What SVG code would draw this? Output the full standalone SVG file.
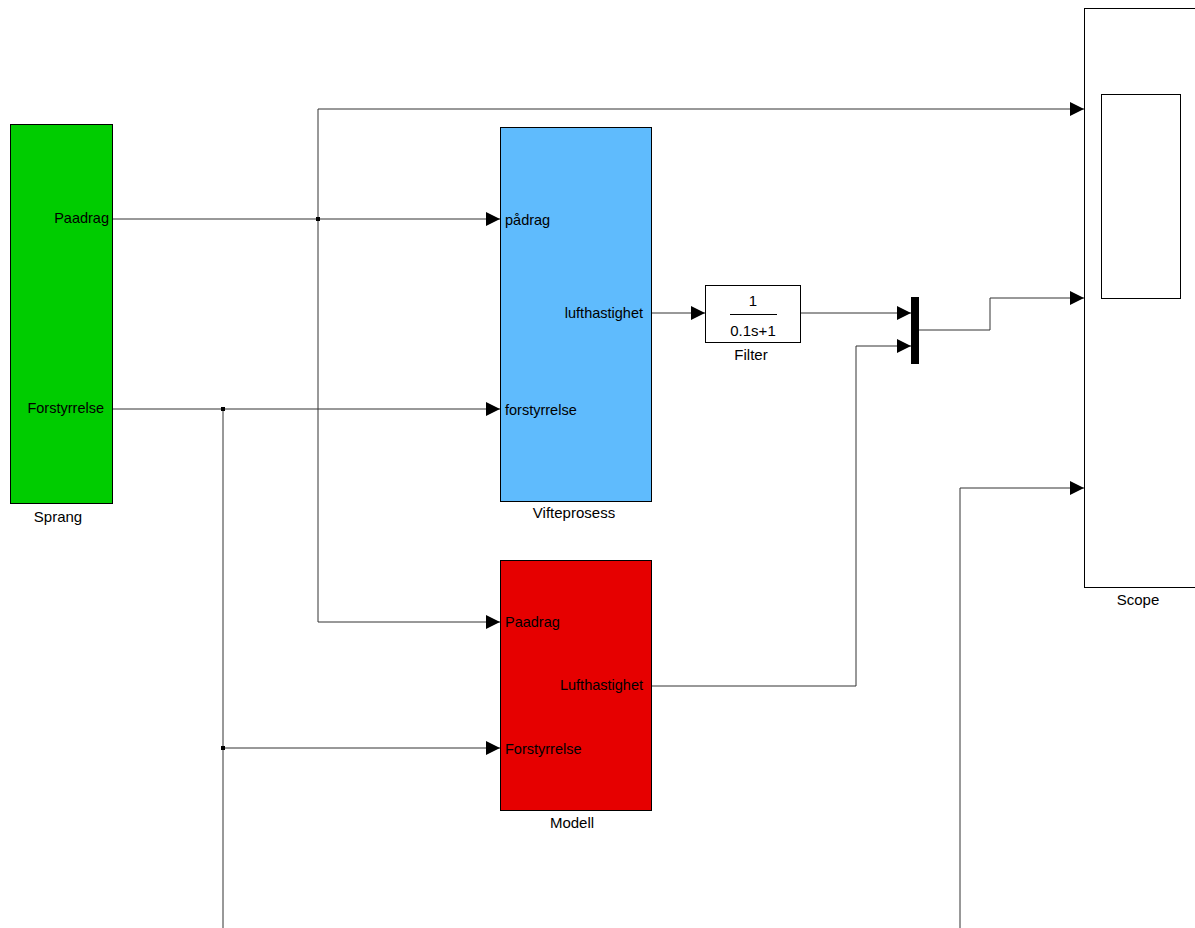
<svg xmlns="http://www.w3.org/2000/svg" width="1195" height="928" viewBox="0 0 1195 928">
<style>
text{font-family:"Liberation Sans",Arial,sans-serif;font-size:14.5px;fill:#000}
.lbl{font-size:15px}
.blk{stroke:#000;stroke-width:1}
.ln{fill:none;stroke:#333;stroke-width:1}
.mid{text-anchor:middle}
.end{text-anchor:end}
</style>
<defs>
<marker id="ar" viewBox="0 0 14 14" refX="14" refY="7" markerWidth="14" markerHeight="14" markerUnits="userSpaceOnUse" orient="auto">
<path d="M0,0 L14,7 L0,14 Z" fill="#000"/>
</marker>
</defs>
<rect width="1195" height="928" fill="#fff"/>
<g id="connectors">
<path class="ln" d="M112,219 H500" marker-end="url(#ar)"/>
<path class="ln" d="M318,219 V109 H1084" marker-end="url(#ar)"/>
<path class="ln" d="M318,219 V622 H500" marker-end="url(#ar)"/>
<path class="ln" d="M112,409 H500" marker-end="url(#ar)"/>
<path class="ln" d="M223,409 V928"/>
<path class="ln" d="M223,748 H500" marker-end="url(#ar)"/>
<path class="ln" d="M651,313 H705" marker-end="url(#ar)"/>
<path class="ln" d="M800,313 H911" marker-end="url(#ar)"/>
<path class="ln" d="M651,686 H856 V346 H911" marker-end="url(#ar)"/>
<path class="ln" d="M919,330 H990 V298 H1084" marker-end="url(#ar)"/>
<path class="ln" d="M960,928 V488 H1084" marker-end="url(#ar)"/>
<rect x="316" y="217" width="4" height="4" fill="#000"/>
<rect x="221" y="407" width="4" height="4" fill="#000"/>
<rect x="221" y="746" width="4" height="4" fill="#000"/>
</g>
<g id="sprang">
<rect class="blk" x="10.5" y="124.5" width="102" height="379" fill="#00CC00"/>
<text class="end" x="109" y="223">Paadrag</text>
<text class="end" x="104" y="413">Forstyrrelse</text>
<text class="mid lbl" x="58" y="522">Sprang</text>
</g>
<g id="vifteprosess">
<rect class="blk" x="500.5" y="127.5" width="151" height="374" fill="#5FBBFD"/>
<text x="505" y="225">pådrag</text>
<text class="end" x="643" y="318">lufthastighet</text>
<text x="505" y="415">forstyrrelse</text>
<text class="mid lbl" x="574" y="518">Vifteprosess</text>
</g>
<g id="filter">
<rect class="blk" x="705.5" y="285.5" width="95" height="57" fill="#fff"/>
<text class="mid lbl" x="753" y="306">1</text>
<line x1="730" y1="314.5" x2="777" y2="314.5" stroke="#000" stroke-width="1"/>
<text class="mid lbl" x="753" y="336">0.1s+1</text>
<text class="mid lbl" x="751" y="360">Filter</text>
</g>
<g id="mux">
<rect x="911" y="297" width="8" height="67" fill="#000"/>
</g>
<g id="modell">
<rect class="blk" x="500.5" y="560.5" width="151" height="250" fill="#E60000"/>
<text x="505" y="627">Paadrag</text>
<text class="end" x="643" y="690">Lufthastighet</text>
<text x="505" y="754">Forstyrrelse</text>
<text class="mid lbl" x="572" y="828">Modell</text>
</g>
<g id="scope">
<rect class="blk" x="1084.5" y="8.5" width="130" height="579" fill="#fff"/>
<rect class="blk" x="1101.5" y="94.5" width="79" height="204" fill="#fff"/>
<text class="mid lbl" x="1138" y="605">Scope</text>
</g>
</svg>
